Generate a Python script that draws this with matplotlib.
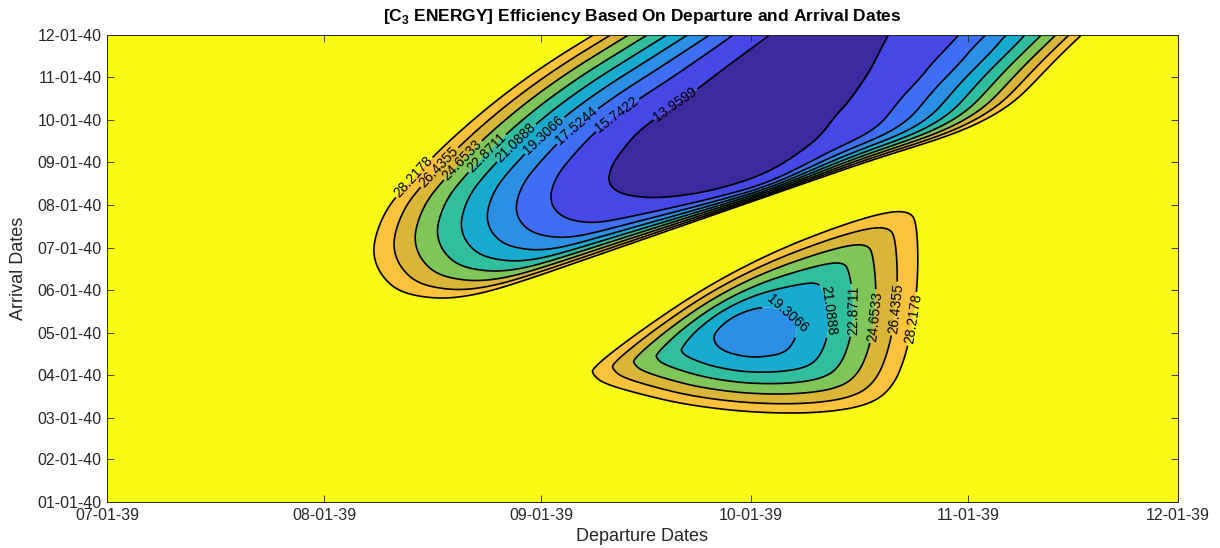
import numpy as np
import matplotlib
matplotlib.use("Agg")
import matplotlib.pyplot as plt
import matplotlib.dates as mdates
from datetime import datetime

# C3 contour levels (data min 12.1777, capped at 30)
LEVELS = [12.1777, 13.9599, 15.7422, 17.5244, 19.3066, 21.0888,
          22.8711, 24.6533, 26.4355, 28.2178, 30.0]
BAND_COLORS = ['#3c2b9e', '#4548e6', '#3d6ef4', '#2b8fe5', '#17abcf',
               '#31be9e', '#80c55a', '#d9b637', '#fbc23c', '#f9fa14']

DEP_START = datetime(2039, 7, 1)
ARR_START = datetime(2040, 1, 1)
DEP_TICKS = [datetime(2039, m, 1) for m in range(7, 13)]
ARR_TICKS = [datetime(2040, m, 1) for m in range(1, 13)]

# lobe outlines, in months after DEP_START / ARR_START
# (points past 12-01-40 only close the outline above the visible area)
# upper (long transfer) lobe
UPPER_MIN = 12.1777
UPPER_CENTER = (2.955, 8.528)
UPPER_IN_DEP = [2.340, 2.358, 2.418, 2.488, 2.605, 2.722, 2.824, 2.955, 3.095,
                3.235, 3.422, 3.609, 3.796, 3.982, 4.122, 4.262, 4.099, 3.936,
                3.796, 3.702, 3.646, 3.604, 3.562, 3.506, 3.455, 3.394, 3.329,
                3.235, 3.142, 3.049, 2.932, 2.768, 2.582, 2.442, 2.367]
UPPER_IN_ARR = [7.585, 7.939, 8.363, 8.763, 9.187, 9.588, 9.988, 10.483, 11.001,
                11.519, 12.297, 13.239, 14.181, 15.124, 15.948, 15.124, 14.181, 13.239,
                12.297, 11.543, 11.001, 10.601, 10.177, 9.753, 9.399, 9.069, 8.622,
                8.245, 7.939, 7.703, 7.491, 7.279, 7.161, 7.208, 7.350]
UPPER_OUT_DEP = [1.243, 1.267, 1.313, 1.383, 1.477, 1.586, 1.726, 1.881, 2.068,
                 2.270, 2.488, 2.768, 3.189, 3.609, 3.982, 4.542, 5.103, 5.327,
                 5.023, 4.776, 4.669, 4.542, 4.416, 4.295, 4.248, 4.202, 4.136,
                 3.702, 3.235, 2.768, 2.302, 1.928, 1.741, 1.578, 1.438, 1.345,
                 1.284, 1.251]
UPPER_OUT_ARR = [6.014, 6.485, 6.956, 7.390, 7.899, 8.450, 9.077, 9.706, 10.372,
                 11.001, 11.661, 12.485, 13.946, 15.359, 17.008, 17.951, 17.008, 14.653,
                 13.239, 12.179, 11.590, 11.001, 10.412, 9.776, 9.423, 9.164, 9.022,
                 8.287, 7.470, 6.652, 5.835, 5.180, 4.900, 4.782, 4.853, 5.018,
                 5.324, 5.654]
# spacing exponent: loose on the open sides, tight where the lobe meets the ridge
UPPER_GAMMA_SIDE = 1.45
UPPER_GAMMA_RIDGE = 2.35
UPPER_RIDGE_DIR = -55.0    # degrees, from the lobe centre toward the ridge
UPPER_RIDGE_SPREAD = 62.0
# soften the bend where the outer contour leaves the ridge
UPPER_BEND_DIR = 5.0
UPPER_BEND_SPREAD = 12.0
UPPER_BEND_SMOOTH = 3.5

# lower (short transfer) lobe
LOWER_MIN = 18.2
LOWER_CENTER = (3.025, 3.981)
LOWER_IN_DEP = [2.823, 2.885, 2.969, 3.064, 3.157, 3.212, 3.220, 3.198, 3.156,
                3.063, 2.971, 2.862]
LOWER_IN_ARR = [3.894, 4.240, 4.476, 4.601, 4.523, 4.287, 3.974, 3.698, 3.503,
                3.416, 3.423, 3.581]
LOWER_OUT_DEP = [2.263, 2.473, 2.784, 3.095, 3.407, 3.640, 3.749, 3.780, 3.788,
                 3.772, 3.733, 3.671, 3.562, 3.329, 3.016, 2.706, 2.473, 2.317, 2.270]
LOWER_OUT_ARR = [3.150, 3.974, 5.034, 5.859, 6.485, 6.839, 6.839, 6.565, 5.543,
                 4.523, 3.503, 2.716, 2.285, 2.090, 2.104, 2.285, 2.561, 2.796, 2.992]
LOWER_GAMMA = 1.25

# one arrival month is drawn about 1/5 as wide as one departure month
ARR_ASPECT = 0.198
DEP_DAYS = 153 / 5.0
ARR_DAYS = 335 / 11.0


def smooth_closed(xs, ys, n_iter=3):
    """Chaikin corner cutting on a closed outline"""
    p = np.column_stack([xs, ys])
    for _ in range(n_iter):
        q = np.roll(p, -1, axis=0)
        new = np.empty((2 * len(p), 2))
        new[0::2] = 0.75 * p + 0.25 * q
        new[1::2] = 0.25 * p + 0.75 * q
        p = new
    return p


def ray_radius(poly, center, angles):
    """distance from center to the outline along each angle"""
    e = np.roll(poly, -1, axis=0) - poly
    w = poly - center
    dx, dy = np.cos(angles)[:, None], np.sin(angles)[:, None]
    ex, ey = e[None, :, 0], e[None, :, 1]
    wx, wy = w[None, :, 0], w[None, :, 1]
    det = ex * dy - dx * ey
    with np.errstate(divide='ignore', invalid='ignore'):
        r = (ex * wy - wx * ey) / det
        u = (dx * wy - dy * wx) / det
    ok = (u >= 0) & (u <= 1) & (r > 0)
    return np.where(ok, r, 0).max(axis=1)


def ang_weight(phi, direction, spread):
    diff = np.angle(np.exp(1j * (phi - np.radians(direction))))
    return np.exp(-(diff / np.radians(spread)) ** 2)


def soften(radius, ang, direction, spread, sigma):
    """smooth the outline radius over angle, only near one direction"""
    step = ang[1] - ang[0]
    half = int(4 * np.radians(sigma) / step)
    k = np.exp(-0.5 * (np.arange(-half, half + 1) * step / np.radians(sigma)) ** 2)
    k /= k.sum()
    ring = radius[:-1]
    padded = np.concatenate([ring[-half:], ring, ring[:half]])
    sm = np.convolve(padded, k, mode='valid')
    sm = np.append(sm, sm[0])
    w = ang_weight(ang, direction, spread)
    return radius + w * (sm - radius)


def lobe_field(D, A, center, vmin, inner, lin, outer, lout, gamma, bend=None):
    c = np.array([center[0], center[1] * ARR_ASPECT])
    p_in = smooth_closed(inner[0], np.array(inner[1]) * ARR_ASPECT)
    p_out = smooth_closed(outer[0], np.array(outer[1]) * ARR_ASPECT)
    ang = np.linspace(-np.pi, np.pi, 2881)
    r_in = ray_radius(p_in, c, ang)
    r_out = ray_radius(p_out, c, ang)
    if bend is not None:
        r_out = soften(r_out, ang, *bend)
    gx = D - c[0]
    gy = A * ARR_ASPECT - c[1]
    r = np.hypot(gx, gy)
    phi = np.arctan2(gy, gx)
    R_in = np.interp(phi, ang, r_in)
    R_out = np.interp(phi, ang, r_out)
    g = gamma(phi) if callable(gamma) else gamma
    z_in = vmin + (lin - vmin) * (r / R_in) ** 2
    t = np.clip((r - R_in) / (R_out - R_in), 0, None)
    z_out = lin + (lout - lin) * t ** g
    return np.where(r <= R_in, z_in, z_out)


def upper_gamma(phi):
    w = ang_weight(phi, UPPER_RIDGE_DIR, UPPER_RIDGE_SPREAD)
    return UPPER_GAMMA_SIDE + (UPPER_GAMMA_RIDGE - UPPER_GAMMA_SIDE) * w


plt.rcParams['font.family'] = ['Liberation Sans', 'DejaVu Sans']
plt.rcParams['mathtext.fontset'] = 'custom'
plt.rcParams['mathtext.rm'] = 'Liberation Sans'
plt.rcParams['mathtext.bf'] = 'Liberation Sans:bold'

dep = np.linspace(0, 5, 1000)
arr = np.linspace(0, 11, 800)
D, A = np.meshgrid(dep, arr)

upper = lobe_field(D, A, UPPER_CENTER, UPPER_MIN,
                   (UPPER_IN_DEP, UPPER_IN_ARR), LEVELS[1],
                   (UPPER_OUT_DEP, UPPER_OUT_ARR), LEVELS[9], upper_gamma,
                   bend=(UPPER_BEND_DIR, UPPER_BEND_SPREAD, UPPER_BEND_SMOOTH))
lower = lobe_field(D, A, LOWER_CENTER, LOWER_MIN,
                   (LOWER_IN_DEP, LOWER_IN_ARR), LEVELS[4],
                   (LOWER_OUT_DEP, LOWER_OUT_ARR), LEVELS[9], LOWER_GAMMA)
Z = np.clip(np.minimum(upper, lower), None, 29.99)

x = mdates.date2num(DEP_START) + dep * DEP_DAYS
y = mdates.date2num(ARR_START) + arr * ARR_DAYS

fig = plt.figure(figsize=(12.2, 5.48), dpi=100)
ax = fig.add_axes([107 / 1220, 46 / 548, 1071 / 1220, 467 / 548])

ax.contourf(x, y, Z, levels=LEVELS, colors=BAND_COLORS, antialiased=True)

# one line set per level so each label sticks to its own level
line_sets = {}
for lev in LEVELS[1:-1]:
    line_sets[lev] = ax.contour(x, y, Z, levels=[lev], colors='black', linewidths=1.2)

# label spots (level, dep month, arr month) as placed on the chart
label_spots = [
    (LEVELS[9], 1.430, 7.663), (LEVELS[8], 1.531, 7.979), (LEVELS[7], 1.625, 8.214),
    (LEVELS[6], 1.726, 8.450), (LEVELS[5], 1.850, 8.763), (LEVELS[4], 1.975, 8.999),
    (LEVELS[3], 2.130, 9.234), (LEVELS[2], 2.317, 9.548), (LEVELS[1], 2.582, 9.941),
    (LEVELS[4], 3.157, 4.287), (LEVELS[5], 3.383, 4.523), (LEVELS[6], 3.507, 4.523),
    (LEVELS[7], 3.601, 4.365), (LEVELS[8], 3.679, 4.563), (LEVELS[9], 3.749, 4.327),
]
for lev, dm, am in label_spots:
    pos = (mdates.date2num(DEP_START) + dm * DEP_DAYS,
           mdates.date2num(ARR_START) + am * ARR_DAYS)
    ax.clabel(line_sets[lev], manual=[pos], inline=True, inline_spacing=2,
              fmt='%.4f', fontsize=10, colors='black')

ax.set_xlim(mdates.date2num(DEP_TICKS[0]), mdates.date2num(DEP_TICKS[-1]))
ax.set_ylim(mdates.date2num(ARR_TICKS[0]), mdates.date2num(ARR_TICKS[-1]))
ax.set_xticks(mdates.date2num(DEP_TICKS))
ax.set_yticks(mdates.date2num(ARR_TICKS))
ax.xaxis.set_major_formatter(mdates.DateFormatter('%m-%d-%y'))
ax.yaxis.set_major_formatter(mdates.DateFormatter('%m-%d-%y'))
ax.tick_params(direction='in', top=True, right=True, length=5, width=0.6,
               colors='#262626', labelsize=11.5, pad=4)
for sp in ax.spines.values():
    sp.set_color('#262626')
    sp.set_linewidth(0.7)

ax.set_xlabel('Departure Dates', fontsize=13, color='#262626', labelpad=4)
ax.set_ylabel('Arrival Dates', fontsize=13, color='#262626', labelpad=7)
ax.set_title(r'[C$_{\mathbf{3}}$ ENERGY] Efficiency Based On Departure and Arrival Dates',
             fontsize=12.5, fontweight='bold', pad=10)

fig.savefig('out.png', dpi=100)
plt.close(fig)
